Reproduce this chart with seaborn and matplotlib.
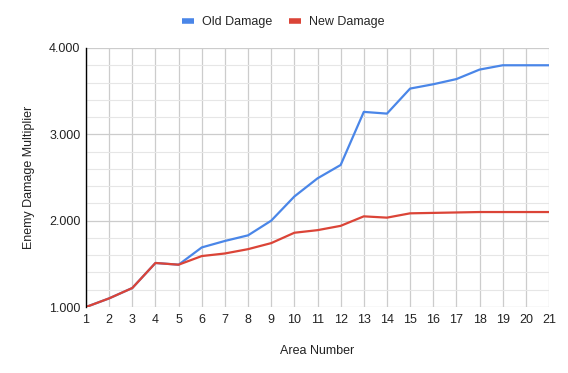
import matplotlib
matplotlib.use("Agg")
import matplotlib.pyplot as plt
from matplotlib.ticker import MultipleLocator, FormatStrFormatter
from matplotlib.lines import Line2D
import seaborn as sns
import pandas as pd

areas = list(range(1, 22))
old_damage = [1.00, 1.10, 1.22, 1.51, 1.49, 1.69, 1.765, 1.83, 2.00, 2.28, 2.49,
              2.645, 3.26, 3.24, 3.53, 3.58, 3.64, 3.75, 3.80, 3.80, 3.80]
new_damage = [1.00, 1.10, 1.22, 1.51, 1.49, 1.59, 1.62, 1.67, 1.74, 1.86, 1.89,
              1.94, 2.05, 2.035, 2.085, 2.09, 2.095, 2.10, 2.10, 2.10, 2.10]
series_names = ["Old Damage", "New Damage"]
colors = ["#4a86e8", "#db4437"]

df = pd.DataFrame({
    "Area Number": areas * 2,
    "value": old_damage + new_damage,
    "series": [series_names[0]] * len(areas) + [series_names[1]] * len(areas),
})

sns.set_theme(style="white")
plt.rcParams["font.family"] = ["Liberation Sans", "DejaVu Sans"]

fig = plt.figure(figsize=(5.68, 3.73), dpi=100)
ax = fig.add_axes([86 / 568, 1 - 307 / 373, (549 - 86) / 568, (307 - 48) / 373])

sns.lineplot(data=df, x="Area Number", y="value", hue="series",
             palette=dict(zip(series_names, colors)), linewidth=1.6,
             legend=False, ax=ax, zorder=3)

ax.set_xlim(1, 21)
ax.set_ylim(1, 4)
ax.xaxis.set_major_locator(MultipleLocator(1))
ax.yaxis.set_major_locator(MultipleLocator(1))
ax.yaxis.set_minor_locator(MultipleLocator(0.2))
ax.yaxis.set_major_formatter(FormatStrFormatter("%.3f"))
ax.grid(True, which="major", axis="both", color="#cccccc", linewidth=0.9)
ax.grid(True, which="minor", axis="y", color="#e6e6e6", linewidth=0.8)
ax.set_axisbelow(True)

for s in ["top", "right", "bottom"]:
    ax.spines[s].set_visible(False)
ax.spines["left"].set_color("#000000")
ax.spines["left"].set_linewidth(1.0)
ax.spines["left"].set_zorder(4)

ax.tick_params(axis="both", which="both", length=0, labelsize=9, colors="#222222")
ax.tick_params(axis="y", pad=4)
ax.tick_params(axis="x", pad=5)

ax.set_xlabel("Area Number", fontsize=9, color="#222222", labelpad=13.5)
ax.set_ylabel("Enemy Damage Multiplier", fontsize=9, color="#222222", labelpad=10)

handles = [Line2D([0], [0], color=c, linewidth=4, solid_capstyle="butt") for c in colors]
fig.legend(handles, series_names, loc="center", bbox_to_anchor=(283 / 568, 1 - 22 / 373),
           ncol=2, frameon=False, fontsize=9, handlelength=0.96, handletextpad=0.64,
           columnspacing=1.36)

fig.savefig("out.png", dpi=100)
